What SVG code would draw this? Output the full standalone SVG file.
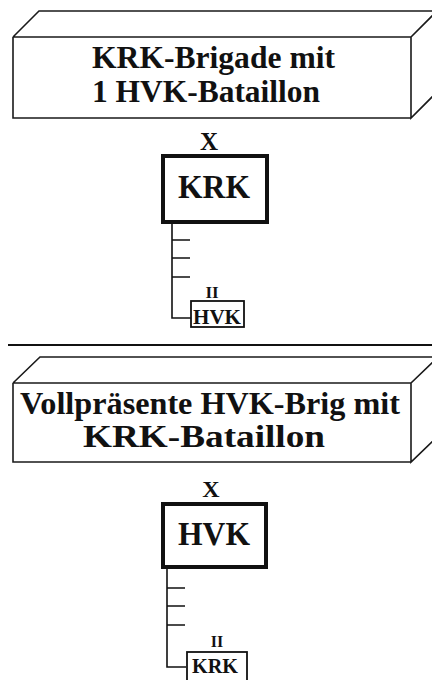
<svg xmlns="http://www.w3.org/2000/svg" width="432" height="680" viewBox="0 0 432 680">
<style>
.box3d{fill:none;stroke:#1a1a1a;stroke-width:1.6;stroke-linejoin:miter}
.title{font-family:"Liberation Serif","Times New Roman",serif;font-weight:bold;font-size:31px;fill:#111}
.big{fill:#fff;stroke:#111;stroke-width:4}
.small{fill:#fff;stroke:#111;stroke-width:1.8}
.lbl{font-family:"Liberation Serif","Times New Roman",serif;font-weight:bold;fill:#111;text-anchor:middle}
.conn{fill:none;stroke:#111;stroke-width:1.6}
</style>
<rect width="432" height="680" fill="#fff"/>
<g id="title-top">
<path class="box3d" d="M13,37 L39,11 L437,11 M13,37 L411,37 L437,11 M411,37 L411,118 L437,92 M13,37 L13,118 L411,118"/>
<text class="title" x="92" y="68" textLength="243" lengthAdjust="spacingAndGlyphs">KRK-Brigade mit</text>
<text class="title" x="92" y="102" textLength="228" lengthAdjust="spacingAndGlyphs">1 HVK-Bataillon</text>
</g>
<line id="separator" x1="8" y1="345" x2="432" y2="345" stroke="#111" stroke-width="2"/>
<g id="title-bottom">
<path class="box3d" d="M13,383 L40,357 L438,357 M13,383 L411,383 L438,357 M411,383 L411,462 L438,436 M13,383 L13,462 L411,462"/>
<text class="title" x="20" y="414" textLength="380" lengthAdjust="spacingAndGlyphs">Vollpräsente HVK-Brig mit</text>
<text class="title" x="83" y="447" textLength="242" lengthAdjust="spacingAndGlyphs">KRK-Bataillon</text>
</g>
<g id="connectors">
<path class="conn" d="M172,224 L172,318 L191,318 M172,240 L190,240 M172,258 L190,258 M172,277 L190,277"/>
<path class="conn" d="M167,569 L167,667 L186,667 M167,588 L185,588 M167,606 L185,606 M167,625 L185,625"/>
</g>
<g id="node-krk">
<text class="lbl" x="209" y="150" font-size="25">X</text>
<rect class="big" x="163" y="156" width="104" height="66"/>
<text class="lbl" x="214" y="198" font-size="34" textLength="72" lengthAdjust="spacingAndGlyphs">KRK</text>
</g>
<g id="node-hvk-bat">
<text class="lbl" x="212" y="298" font-size="17">II</text>
<rect class="small" x="191" y="301" width="53" height="26"/>
<text class="lbl" x="217" y="324" font-size="20" textLength="48" lengthAdjust="spacingAndGlyphs">HVK</text>
</g>
<g id="node-hvk">
<text class="lbl" x="211" y="497" font-size="24">X</text>
<rect class="big" x="163" y="504" width="103" height="63"/>
<text class="lbl" x="214" y="545" font-size="34" textLength="72" lengthAdjust="spacingAndGlyphs">HVK</text>
</g>
<g id="node-krk-bat">
<text class="lbl" x="217" y="647" font-size="16">II</text>
<rect class="small" x="187" y="652" width="60" height="40"/>
<text class="lbl" x="215" y="673" font-size="20" textLength="46" lengthAdjust="spacingAndGlyphs">KRK</text>
</g>
</svg>
